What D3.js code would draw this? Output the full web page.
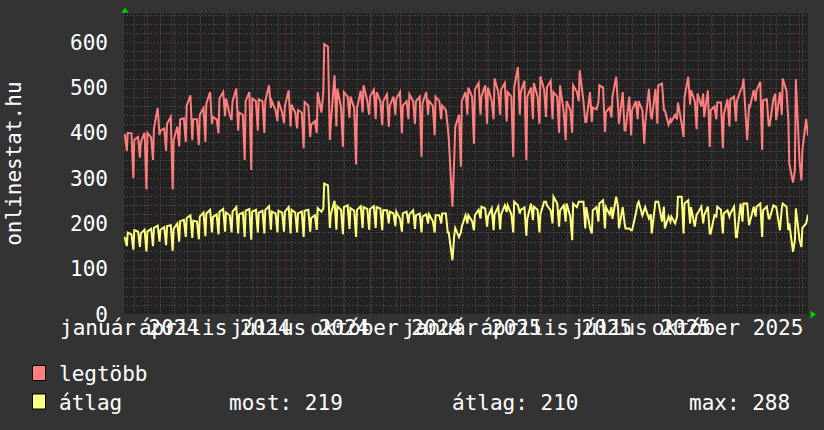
<!DOCTYPE html>
<html>
<head>
<meta charset="utf-8">
<script src="https://cdn.jsdelivr.net/npm/d3@7"></script>
<style>
  body { margin: 0; background: #333333; }
  svg text { font-family: "DejaVu Sans Mono", monospace; font-size: 21px; fill: #ffffff; }
</style>
</head>
<body>
<div id="chart"></div>
<script>
// readings per week, week k starts on Monday 2024-01-08 + 7k
// three readings a week: monday, friday, sunday
var firstMonday = new Date(2024, 0, 8);
var dayOffsets = [0, 4, 6];

var legtobb = [
  390,395,360, 400,399,300, 385,391,345, 380,400,275, 400,390,340,
  410,455,395, 405,410,360, 420,435,275, 383,414,370, 430,432,380,
  460,483,384, 430,430,373, 440,455,380, 465,490,420, 435,430,399,
  476,490,437, 476,440,428, 470,498,405, 445,440,340, 470,490,318,
  476,470,405, 474,470,400, 470,505,455, 470,450,426, 470,445,421,
  460,494,414, 462,445,410, 450,445,366, 468,460,391, 418,426,400,
  490,445,488, 596,590,384, 420,527,414, 498,455,369, 490,480,433,
  480,455,330, 455,493,445, 505,470,440, 480,495,430, 490,470,417,
  470,485,413, 460,480,440, 475,490,399, 460,470,430, 485,470,420,
  470,480,347, 465,490,440, 470,460,395, 480,470,430, 460,450,413,
  390,237,347, 413,440,325, 470,490,440, 500,480,376, 495,510,440,
  480,505,420, 500,470,430, 520,490,440, 495,510,425, 490,480,347,
  500,545,440, 490,515,340, 480,500,430, 510,480,420, 525,495,435,
  500,515,430, 490,480,400, 505,445,384, 470,450,400, 505,490,470,
  538,470,424, 424,490,424, 456,452,467, 505,500,402, 445,456,434,
  480,524,460, 420,490,405, 405,480,394, 450,470,430, 470,450,376,
  420,497,440, 430,497,420, 505,509,450, 450,418,430, 425,440,430,
  467,420,391, 478,524,462, 494,470,408, 487,458,487, 435,494,369,
  450,458,430, 467,467,366, 440,474,414, 474,480,425, 470,494,502,
  520,384,460, 458,494,470, 494,513,362, 472,474,416, 416,474,487,
  428,490,440, 520,493,428, 332,290,318, 519,335,295, 362,431,394
];

var atlag = [
  172,168,150, 180,176,142, 185,182,148, 178,186,138, 182,188,150,
  190,195,160, 186,192,152, 194,196,140, 188,200,160, 205,208,170,
  212,218,168, 206,204,165, 215,224,172, 222,230,180, 214,220,176,
  226,232,182, 224,218,180, 226,236,178, 220,224,170, 228,232,164,
  226,230,180, 224,228,178, 230,238,186, 226,222,180, 228,224,182,
  226,236,178, 230,224,180, 222,226,170, 228,230,182, 212,218,186,
  234,226,232, 288,284,190, 220,250,186, 238,230,176, 236,240,188,
  234,228,170, 230,238,190, 236,232,186, 232,238,190, 236,233,185,
  229,229,200, 226,222,194, 226,210,182, 222,226,200, 220,229,188,
  218,222,180, 215,220,200, 220,205,180, 218,218,200, 222,222,180,
  180,119,175, 190,170,180, 193,218,200, 218,205,185, 218,230,211,
  237,233,193, 215,233,185, 220,237,187, 220,240,225, 240,220,180,
  248,240,222, 230,235,173, 210,244,207, 237,230,180, 220,248,248,
  240,229,200, 259,244,193, 229,240,204, 244,215,163, 244,236,248,
  248,248,189, 236,190,178, 229,236,204, 244,251,189, 236,220,236,
  210,259,236, 189,236,200, 189,189,185, 185,222,244, 248,218,230,
  236,211,220, 178,248,248, 248,204,237, 189,215,204, 215,200,215,
  259,259,178, 244,251,200, 236,193,220, 222,237,200, 218,237,178,
  178,218,215, 237,230,178, 222,229,215, 222,237,170, 170,244,204,
  244,244,196, 204,237,215, 237,244,170, 229,237,211, 211,240,237,
  237,185,233, 244,237,185, 200,137,163, 233,163,148, 190,200,219
];

var tickMonths = [
  new Date(2024, 0, 1), new Date(2024, 3, 1), new Date(2024, 6, 1), new Date(2024, 9, 1),
  new Date(2025, 0, 1), new Date(2025, 3, 1), new Date(2025, 6, 1), new Date(2025, 9, 1)
];
var tickLabels = [
  "január 2024", "április 2024", "július 2024", "október 2024",
  "január 2025", "április 2025", "július 2025", "október 2025"
];
var yLabels = [0, 100, 200, 300, 400, 500, 600];

var seriesNames = ["legtöbb", "átlag"];
var seriesColors = ["#ff7f7f", "#ffff7f"];
var statLabels = ["most: 219", "átlag: 210", "max: 288"];

var W = 824, H = 430;
var margin = { top: 13.3, right: 16, bottom: 116, left: 124 };

var svg = d3.select("#chart").append("svg")
  .attr("width", W)
  .attr("height", H);

svg.append("rect").attr("width", W).attr("height", H).attr("fill", "#333333");

var x = d3.scaleTime()
  .domain([new Date(2024, 0, 11), new Date(2026, 0, 11)])
  .range([margin.left, W - margin.right]);
var y = d3.scaleLinear()
  .domain([0, 664])
  .range([H - margin.bottom, margin.top]);

var x0 = x.range()[0], x1 = x.range()[1];
var y0 = y.range()[0], y1 = y.range()[1];

svg.append("rect")
  .attr("x", x0).attr("y", y1)
  .attr("width", x1 - x0).attr("height", y0 - y1)
  .attr("fill", "#222222");

svg.append("clipPath").attr("id", "plot")
  .append("rect")
  .attr("x", x0).attr("y", y1)
  .attr("width", x1 - x0).attr("height", y0 - y1);

var grid = svg.append("g").attr("clip-path", "url(#plot)");

// minor grid: every 20 and every second monday
grid.selectAll(".hmin").data(d3.range(20, 680, 20)).enter().append("line")
  .attr("x1", x0).attr("x2", x1)
  .attr("y1", d => Math.round(y(d)) + 0.5).attr("y2", d => Math.round(y(d)) + 0.5)
  .attr("stroke", "#5a5a5a").attr("stroke-dasharray", "1,2");

var biweekly = d3.range(0, 106, 2).map(k => d3.timeDay.offset(firstMonday, 7 * k));
grid.selectAll(".vmin").data(biweekly).enter().append("line")
  .attr("x1", d => Math.round(x(d)) + 0.5).attr("x2", d => Math.round(x(d)) + 0.5)
  .attr("y1", y1).attr("y2", y0)
  .attr("stroke", "#5a5a5a").attr("stroke-dasharray", "1,2");

// major grid: every 100 and every month
grid.selectAll(".hmaj").data(yLabels).enter().append("line")
  .attr("x1", x0).attr("x2", x1)
  .attr("y1", d => Math.round(y(d)) + 0.5).attr("y2", d => Math.round(y(d)) + 0.5)
  .attr("stroke", "#7a3434").attr("stroke-dasharray", "1,2");

grid.selectAll(".vmaj").data(d3.timeMonth.range(x.domain()[0], x.domain()[1])).enter().append("line")
  .attr("x1", d => Math.round(x(d)) + 0.5).attr("x2", d => Math.round(x(d)) + 0.5)
  .attr("y1", y1).attr("y2", y0)
  .attr("stroke", "#7a3434").attr("stroke-dasharray", "1,2");

// series
function points(values) {
  return values.map(function(v, i) {
    var k = Math.floor(i / 3);
    return { date: d3.timeDay.offset(firstMonday, 7 * k + dayOffsets[i % 3]), v: v };
  });
}

var line = d3.line().x(d => x(d.date)).y(d => y(d.v));

var lines = svg.append("g").attr("clip-path", "url(#plot)");
[legtobb, atlag].forEach(function(vals, i) {
  lines.append("path")
    .datum(points(vals))
    .attr("d", line)
    .attr("fill", "none")
    .attr("stroke", seriesColors[i])
    .attr("stroke-width", 2);
});

// axis arrows
svg.append("path")
  .attr("d", "M" + (x0 - 3) + "," + (y1 - 0.5) + "L" + (x0 + 1) + "," + (y1 - 5.5) + "L" + (x0 + 5) + "," + (y1 - 0.5) + "Z")
  .attr("fill", "#00cc00");
svg.append("path")
  .attr("d", "M" + (x1 + 2.5) + "," + (y0 - 3.5) + "L" + (x1 + 8) + "," + (y0 + 0.5) + "L" + (x1 + 2.5) + "," + (y0 + 4.5) + "Z")
  .attr("fill", "#00cc00");

// y labels
svg.selectAll(".ylab").data(yLabels).enter().append("text")
  .attr("x", 108)
  .attr("y", d => y(d) + 7.5)
  .attr("text-anchor", "end")
  .text(d => d);

// x labels, centred half a month past the month start
svg.selectAll(".xlab").data(tickMonths).enter().append("text")
  .attr("x", d => x(d3.timeDay.offset(d, 16)))
  .attr("y", 335)
  .attr("text-anchor", "middle")
  .text((d, i) => tickLabels[i]);

// vertical title
svg.append("text")
  .attr("transform", "translate(21," + ((y0 + y1) / 2) + ") rotate(-90)")
  .attr("text-anchor", "middle")
  .text("onlinestat.hu");

// legend
var legend = svg.append("g");
seriesNames.forEach(function(name, i) {
  var ly = 381 + i * 28.5;
  legend.append("rect")
    .attr("x", 32.5).attr("y", ly - 15.5)
    .attr("width", 13).attr("height", 15)
    .attr("fill", seriesColors[i])
    .attr("stroke", "#000000").attr("stroke-width", 1);
  legend.append("text").attr("x", 59).attr("y", ly).text(name);
});
var statX = [229, 452, 689];
statLabels.forEach(function(s, i) {
  legend.append("text").attr("x", statX[i]).attr("y", 409.5).text(s);
});
</script>
</body>
</html>
